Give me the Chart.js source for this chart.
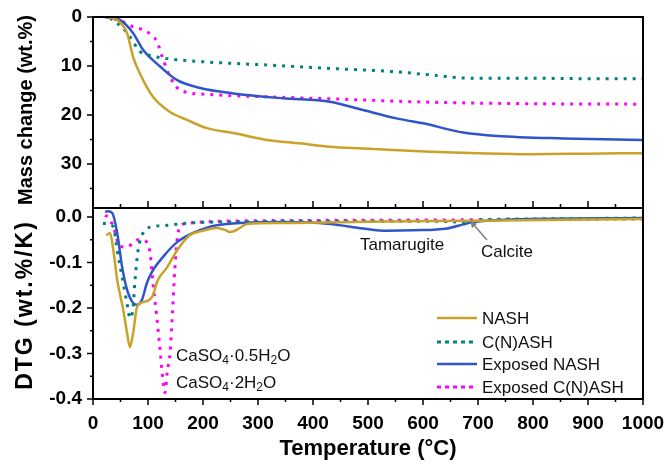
<!DOCTYPE html>
<html lang="en">
<head>
    <meta charset="UTF-8">
    <title>TG / DTG</title>
    <script src="https://cdn.jsdelivr.net/npm/chart.js"></script>
    <style>
        body { margin: 0; background: #fff; }
        #wrap { width: 668px; height: 467px; }
    </style>
</head>
<body>
    <div id="wrap"><canvas id="tgChart" width="668" height="467"></canvas></div>

    <script>
        // mass change (wt.%) vs temperature
        const tempNashTG = [22, 30, 44, 53, 62, 73, 85, 109, 140, 171, 207, 255, 316, 376, 431, 520, 613, 700, 795, 900, 1000];
        const massNash = [0, 0.1, 0.6, 1.6, 3.3, 8.2, 11.5, 16.3, 19.4, 21.0, 22.7, 23.7, 25.1, 25.8, 26.5, 27.0, 27.5, 27.8, 28.0, 27.9, 27.8];

        const tempCnashTG = [31, 55, 67, 85, 110, 134, 195, 316, 431, 552, 620, 685, 800, 900, 1000];
        const massCnash = [0.2, 2.3, 4.0, 7.0, 8.0, 8.5, 9.1, 9.8, 10.5, 11.2, 11.9, 12.5, 12.5, 12.6, 12.6];

        const tempExpNashTG = [25, 49, 73, 91, 122, 153, 195, 255, 345, 431, 491, 552, 613, 644, 673, 735, 855, 1000];
        const massExpNash = [0, 0.6, 3.3, 6.7, 10.1, 12.9, 14.5, 15.6, 16.6, 17.3, 19.0, 20.7, 22.0, 22.9, 23.6, 24.3, 24.8, 25.1];

        const tempExpCnashTG = [22, 50, 73, 98, 116, 127, 140, 158, 207, 316, 431, 613, 795, 1000];
        const massExpCnash = [0, 0.8, 2.0, 3.0, 5.0, 8.5, 12.2, 14.9, 15.8, 16.3, 16.7, 17.4, 17.7, 17.8];

        // DTG (wt.%/K) vs temperature
        const tempNashDTG = [24, 31, 37, 44, 55, 62, 67, 73, 80, 91, 107, 118, 135, 153, 176, 200, 225, 240, 249, 258, 267, 280, 345, 500, 700, 1000];
        const dtgNash = [-0.040, -0.035, -0.073, -0.138, -0.204, -0.255, -0.286, -0.255, -0.198, -0.187, -0.176, -0.138, -0.110, -0.073, -0.040, -0.030, -0.024, -0.028, -0.033, -0.030, -0.024, -0.015, -0.013, -0.010, -0.008, -0.004];

        const tempCnashDTG = [18, 37, 44, 55, 64, 67, 73, 76, 82, 91, 109, 135, 176, 300, 431, 613, 662, 680, 689, 700, 800, 1000];
        const dtgCnash = [-0.014, -0.021, -0.073, -0.145, -0.204, -0.222, -0.198, -0.145, -0.073, -0.035, -0.021, -0.018, -0.013, -0.010, -0.009, -0.009, -0.011, -0.013, -0.009, -0.006, -0.004, -0.002];

        const tempExpNashDTG = [22, 27, 35, 44, 53, 62, 73, 80, 89, 98, 107, 127, 153, 182, 225, 345, 431, 491, 534, 582, 644, 673, 691, 764, 1000];
        const dtgExpNash = [0.011, 0.013, 0.009, -0.035, -0.110, -0.160, -0.189, -0.193, -0.182, -0.145, -0.121, -0.088, -0.055, -0.035, -0.018, -0.011, -0.015, -0.025, -0.030, -0.029, -0.025, -0.016, -0.011, -0.005, -0.002];

        const tempExpCnashDTG = [22, 27, 37, 49, 62, 82, 98, 104, 109, 116, 122, 127, 131, 135, 140, 145, 149, 153, 158, 170, 195, 300, 500, 1000];
        const dtgExpCnash = [0.004, 0.000, -0.021, -0.065, -0.065, -0.050, -0.055, -0.080, -0.145, -0.220, -0.292, -0.358, -0.386, -0.340, -0.300, -0.200, -0.110, -0.050, -0.021, -0.014, -0.011, -0.008, -0.007, -0.004];

        const seriesNames = ['NASH', 'C(N)ASH', 'Exposed NASH', 'Exposed C(N)ASH'];
        const seriesColors = ['#c9a22a', '#00807f', '#2f55c8', '#ff00ff'];
        const seriesDashed = [false, true, false, true];

        const xTicks = [0, 100, 200, 300, 400, 500, 600, 700, 800, 900, 1000];
        const massTicks = [0, 10, 20, 30];
        const dtgTicks = [0, -0.1, -0.2, -0.3, -0.4];

        const FONT = "'Liberation Sans', Arial, sans-serif";

        function pts(xs, ys) {
            return xs.map((x, i) => ({ x: x, y: ys[i] }));
        }

        function ds(i, xs, ys, axis) {
            return {
                label: seriesNames[i],
                data: pts(xs, ys),
                yAxisID: axis,
                borderColor: seriesColors[i],
                borderWidth: seriesDashed[i] ? 3 : 2.5,
                borderDash: seriesDashed[i] ? [3, 6] : [],
                pointRadius: 0,
                fill: false,
                cubicInterpolationMode: 'monotone'
            };
        }

        function drawFormula(ctx, x0, y0, parts) {
            let cx = x0;
            parts.forEach((p, i) => {
                const sub = i % 2 === 1;
                ctx.font = (sub ? '12px ' : '17px ') + FONT;
                ctx.fillText(p, cx, y0 + (sub ? 5 : 0));
                cx += ctx.measureText(p).width;
            });
        }

        // frame, ticks, titles, legend and labels
        const decor = {
            id: 'decor',
            afterDraw(chart) {
                const ctx = chart.ctx;
                const x = chart.scales.x, ym = chart.scales.ym, yd = chart.scales.yd;
                const L = x.left, R = x.right;
                ctx.save();
                ctx.strokeStyle = '#000';
                ctx.lineWidth = 2;
                ctx.strokeRect(L, ym.top, R - L, ym.bottom - ym.top);
                ctx.strokeRect(L, yd.top, R - L, yd.bottom - yd.top);

                ctx.lineWidth = 1.5;
                ctx.beginPath();
                for (let t = 0; t <= 1000; t += 50) {
                    const px = x.getPixelForValue(t);
                    const len = t % 100 === 0 ? 6 : 3;
                    ctx.moveTo(px, yd.bottom); ctx.lineTo(px, yd.bottom + len);
                    ctx.moveTo(px, ym.bottom); ctx.lineTo(px, ym.bottom - len - 1);
                }
                for (let v = 0; v <= 35; v += 5) {
                    const py = ym.getPixelForValue(v);
                    const len = v % 10 === 0 ? 6 : 3;
                    ctx.moveTo(L, py); ctx.lineTo(L - len, py);
                }
                for (let k = 0; k <= 8; k++) {
                    const py = yd.getPixelForValue(-k * 0.05);
                    const len = k % 2 === 0 ? 6 : 3;
                    ctx.moveTo(L, py); ctx.lineTo(L - len, py);
                }
                ctx.stroke();

                // axis titles
                ctx.fillStyle = '#000';
                ctx.font = 'bold 22px ' + FONT;
                ctx.textAlign = 'center';
                ctx.textBaseline = 'middle';
                ctx.fillText('Temperature (\u00B0C)', (L + R) / 2, 449);
                ctx.font = 'bold 20px ' + FONT;
                ctx.save();
                ctx.translate(26, 110);
                ctx.rotate(-Math.PI / 2);
                ctx.fillText('Mass change (wt.%)', 0, 0);
                ctx.restore();
                ctx.save();
                ctx.font = 'bold 23px ' + FONT;
                ctx.letterSpacing = '2px';
                ctx.translate(26, 305);
                ctx.rotate(-Math.PI / 2);
                ctx.fillText('DTG (wt.%/K)', 0, 0);
                ctx.restore();

                // legend
                ctx.font = '17px ' + FONT;
                ctx.textAlign = 'left';
                const rows = [318, 342, 364, 387];
                for (let i = 0; i < 4; i++) {
                    ctx.strokeStyle = seriesColors[i];
                    ctx.lineWidth = seriesDashed[i] ? 3 : 2.5;
                    ctx.setLineDash(seriesDashed[i] ? [4, 4] : []);
                    ctx.beginPath();
                    ctx.moveTo(437, rows[i]); ctx.lineTo(477, rows[i]);
                    ctx.stroke();
                    ctx.setLineDash([]);
                    ctx.fillStyle = '#111';
                    ctx.fillText(seriesNames[i], 482, rows[i] + 1);
                }

                // peak labels
                ctx.fillStyle = '#111';
                ctx.font = '17px ' + FONT;
                ctx.fillText('Tamarugite', 360, 245);
                ctx.fillText('Calcite', 481, 252);
                drawFormula(ctx, 176, 356, ['CaSO', '4', '\u00B70.5H', '2', 'O']);
                drawFormula(ctx, 176, 383, ['CaSO', '4', '\u00B72H', '2', 'O']);

                // arrow to calcite
                ctx.strokeStyle = '#808080';
                ctx.fillStyle = '#808080';
                ctx.lineWidth = 1.5;
                ctx.beginPath();
                ctx.moveTo(487, 240); ctx.lineTo(473, 224);
                ctx.stroke();
                ctx.beginPath();
                ctx.moveTo(470, 220); ctx.lineTo(477, 224); ctx.lineTo(472, 228);
                ctx.closePath();
                ctx.fill();
                ctx.restore();
            }
        };

        const tickFont = { family: FONT, size: 19, weight: 'bold' };

        new Chart(document.getElementById('tgChart'), {
            type: 'line',
            data: {
                datasets: [
                    ds(0, tempNashTG, massNash, 'ym'),
                    ds(1, tempCnashTG, massCnash, 'ym'),
                    ds(2, tempExpNashTG, massExpNash, 'ym'),
                    ds(3, tempExpCnashTG, massExpCnash, 'ym'),
                    ds(0, tempNashDTG, dtgNash, 'yd'),
                    ds(1, tempCnashDTG, dtgCnash, 'yd'),
                    ds(2, tempExpNashDTG, dtgExpNash, 'yd'),
                    ds(3, tempExpCnashDTG, dtgExpCnash, 'yd')
                ]
            },
            options: {
                responsive: false,
                animation: false,
                devicePixelRatio: 1,
                layout: { padding: { top: 17, right: 25, left: 0, bottom: 0 } },
                plugins: { legend: { display: false }, tooltip: { enabled: false } },
                scales: {
                    x: {
                        type: 'linear',
                        min: 0, max: 1000,
                        afterBuildTicks: s => { s.ticks = xTicks.map(v => ({ value: v })); },
                        afterFit: s => { s.height = 68; s.paddingLeft = 0; s.paddingRight = 0; },
                        grid: { display: false, drawTicks: false },
                        border: { display: false },
                        ticks: { color: '#000', padding: 13, maxRotation: 0, font: tickFont, callback: v => String(v) }
                    },
                    yd: {
                        type: 'linear',
                        position: 'left',
                        stack: 'panels',
                        stackWeight: 1,
                        min: -0.4, max: 0.02,
                        afterBuildTicks: s => { s.ticks = dtgTicks.map(v => ({ value: v })); },
                        afterFit: s => { s.width = 93; s.paddingTop = 0; s.paddingBottom = 0; },
                        grid: { display: false, drawTicks: false },
                        border: { display: false },
                        ticks: { color: '#000', padding: 11, font: tickFont, callback: v => v.toFixed(1) }
                    },
                    ym: {
                        type: 'linear',
                        position: 'left',
                        stack: 'panels',
                        stackWeight: 1,
                        reverse: true,
                        min: 0, max: 39,
                        afterBuildTicks: s => { s.ticks = massTicks.map(v => ({ value: v })); },
                        afterFit: s => { s.width = 93; s.paddingTop = 0; s.paddingBottom = 0; },
                        grid: { display: false, drawTicks: false },
                        border: { display: false },
                        ticks: { color: '#000', padding: 11, font: tickFont }
                    }
                }
            },
            plugins: [decor]
        });
    </script>
</body>
</html>
